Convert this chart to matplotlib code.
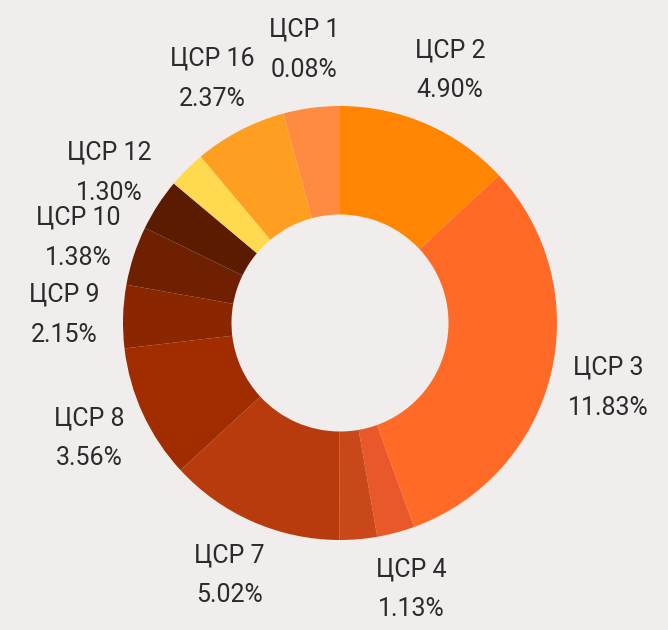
import matplotlib.pyplot as plt

# slices clockwise from 12 o'clock; share of the ring
slice_names = ['ЦСР 2', 'ЦСР 3', 'ЦСР 4', '', 'ЦСР 7', 'ЦСР 8', 'ЦСР 9',
               'ЦСР 10', 'ЦСР 12', '', 'ЦСР 16', 'ЦСР 1']
slice_share = [13.1, 31.4, 2.8, 2.8, 13.1, 10.0, 4.7, 4.4, 3.9, 2.8, 6.9, 4.2]
pct_labels = ['4.90%', '11.83%', '1.13%', '', '5.02%', '3.56%', '2.15%',
              '1.38%', '1.30%', '', '2.37%', '0.08%']
colors = ['#FF8503', '#FF6A26', '#E8582A', '#C9481A', '#B83B0E', '#A02C00',
          '#8A2600', '#6E2000', '#5A1B00', '#FFD94F', '#FF9F22', '#FF8B40']

bg = '#F1EDED'
plt.rcParams['font.family'] = ['Roboto', 'DejaVu Sans']

fig = plt.figure(figsize=(6.68, 6.30), dpi=100, facecolor=bg)
ax = fig.add_axes([0, 0, 1, 1])
ax.set_facecolor(bg)

labels = [f'{n}\n{p}' if n else '' for n, p in zip(slice_names, pct_labels)]
wedges, texts = ax.pie(slice_share, labels=labels, colors=colors,
                       startangle=90, counterclock=False, radius=1.0,
                       labeldistance=1.27,
                       wedgeprops=dict(width=0.5, linewidth=0),
                       textprops=dict(fontsize=18, color='#2b2b2b',
                                      linespacing=1.85))
for t in texts:
    t.set_ha('center')
    t.set_va('center')

# centre of ring sits at pixel (340, 323), radius 217 px
ax.set_xlim(-340 / 217, 328 / 217)
ax.set_ylim(-307 / 217, 323 / 217)
ax.set_aspect('equal')
ax.axis('off')

fig.savefig('out.png', dpi=100, facecolor=bg)
